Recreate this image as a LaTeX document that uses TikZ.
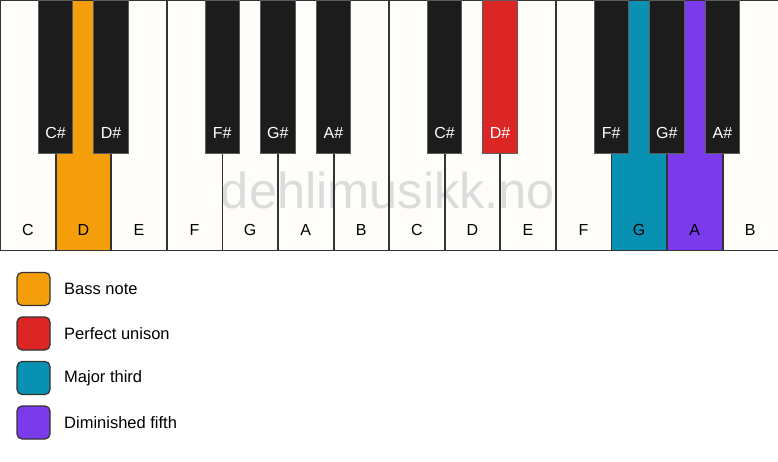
\documentclass[tikz,border=0pt]{standalone}
\usepackage{fontspec}
\setmainfont{Liberation Sans}
\definecolor{keywhite}{HTML}{FFFDF9}
\definecolor{keyblack}{HTML}{1C1C1C}
\definecolor{keyline}{HTML}{333333}
\definecolor{cbass}{HTML}{F59E0B}
\definecolor{cuni}{HTML}{DC2626}
\definecolor{cthird}{HTML}{0891B2}
\definecolor{cfifth}{HTML}{7C3AED}
\definecolor{wmark}{HTML}{DCDCDC}
\begin{document}
\begin{tikzpicture}[x=1pt,y=-1pt,
  whitekey/.style={rectangle,inner sep=0pt,minimum width=55.571pt,minimum height=250pt,anchor=north west,fill=keywhite},
  keyborder/.style={draw=keyline,line width=1.4pt},
  blackkey/.style={rectangle,inner sep=0pt,minimum width=34.5pt,minimum height=153pt,anchor=north,fill=keyblack,draw=keyline!80,line width=0.9pt},
  wlabel/.style={font=\fontsize{16}{19}\selectfont,text=black},
  blabel/.style={font=\fontsize{16}{19}\selectfont,text=white},
  legbox/.style={rectangle,rounded corners=5pt,minimum size=33pt,inner sep=0pt,draw=keyline,line width=1.2pt},
  legtext/.style={anchor=west,font=\fontsize{16.5}{19}\selectfont,text=black,inner sep=0pt}]
\useasboundingbox (0,0) rectangle (778,461);
\fill[white] (0,0) rectangle (778,461);
% white keys
\foreach \i/\n/\c in {0/C/keywhite,1/D/cbass,2/E/keywhite,3/F/keywhite,4/G/keywhite,5/A/keywhite,6/B/keywhite,
  7/C/keywhite,8/D/keywhite,9/E/keywhite,10/F/keywhite,11/G/cthird,12/A/cfifth,13/B/keywhite}{
  \node[whitekey,fill=\c] (w\i) at ({\i*55.571},0) {};
}
% watermark
\node[text=wmark,font=\fontsize{50.5}{58}\selectfont,inner sep=0pt] (wm) at (388,190) {dehlimusikk.no};
% white key borders and labels
\foreach \i/\n in {0/C,1/D,2/E,3/F,4/G,5/A,6/B,7/C,8/D,9/E,10/F,11/G,12/A,13/B}{
  \draw[keyborder] (w\i.north west) rectangle (w\i.south east);
  \node[wlabel] (wl\i) at ({(\i+0.5)*55.571},230) {\n};
}
% black keys
\foreach \b/\n/\c in {1/C\#/keyblack,2/D\#/keyblack,4/F\#/keyblack,5/G\#/keyblack,6/A\#/keyblack,
  8/C\#/keyblack,9/D\#/cuni,11/F\#/keyblack,12/G\#/keyblack,13/A\#/keyblack}{
  \node[blackkey,fill=\c] (b\b) at ({\b*55.571},0) {};
  \node[blabel] (bl\b) at ({\b*55.571},133) {\n};
}
% legend
\node[legbox,fill=cbass] (l1) at (33.5,289) {};
\node[legtext] (t1) at (64,289) {Bass note};
\node[legbox,fill=cuni] (l2) at (33.5,333.5) {};
\node[legtext] (t2) at (64,333.5) {Perfect unison};
\node[legbox,fill=cthird] (l3) at (33.5,378) {};
\node[legtext] (t3) at (64,378) {Major third};
\node[legbox,fill=cfifth] (l4) at (33.5,422.5) {};
\node[legtext] (t4) at (64,422.5) {Diminished fifth};
\end{tikzpicture}
\end{document}
